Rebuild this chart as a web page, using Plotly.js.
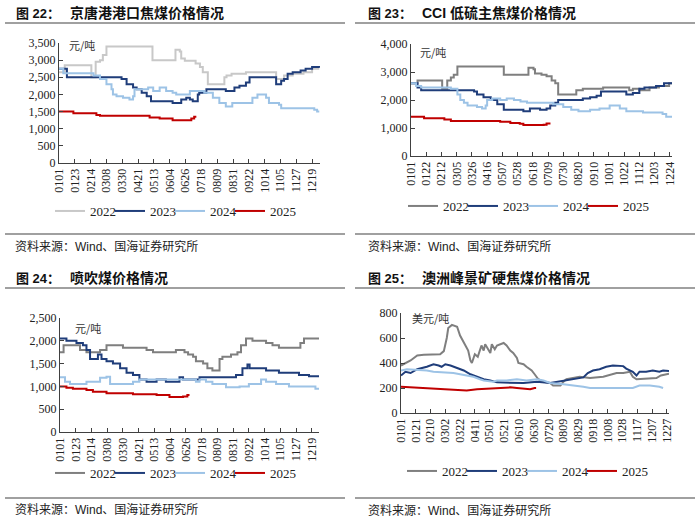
<!DOCTYPE html>
<html><head><meta charset="utf-8">
<script src="https://cdn.plot.ly/plotly-3.0.1.min.js"></script>
<style>html,body{margin:0;padding:0;background:#fff}#chart{width:700px;height:526px}</style>
</head><body><div id="chart"></div>
<script>
// ---------- DATA ----------
const years = ['2022', '2023', '2024', '2025'];

const ticks1 = ['0101','0123','0214','0308','0330','0421','0513','0604','0626','0718','0809','0831','0922','1014','1105','1127','1219'];
const ticks2 = ['0101','0122','0212','0305','0326','0416','0507','0528','0618','0709','0730','0820','0910','1001','1022','1112','1203','1224'];
const ticks3 = ['0101','0123','0214','0308','0330','0421','0513','0604','0626','0718','0809','0831','0922','1014','1105','1127','1219'];
const ticks4 = ['0101','0121','0210','0302','0322','0411','0501','0521','0610','0630','0720','0809','0829','0918','1008','1028','1117','1207','1227'];

// [day of year (0 = Jan 1), price]
// Panel 1: 京唐港港口焦煤 (元/吨)
const p1_2022 = [[0,2650],[8,2850],[45,2500],[51,2950],[57,3000],[61,3150],[66,3400],[130,3000],[162,3300],[168,3250],[170,3050],[175,2980],[190,2900],[196,2800],[200,2650],[207,2300],[230,2500],[233,2550],[240,2600],[260,2650],[302,2450],[313,2550],[325,2600],[340,2650],[352,2750],[362,2750]];
const p1_2023 = [[0,2750],[11,2500],[87,2450],[94,2300],[103,2200],[108,2150],[115,2050],[122,1950],[128,1800],[158,1750],[170,1850],[177,1900],[182,1850],[186,1800],[193,2000],[195,2050],[205,2150],[232,2100],[244,2200],[251,2250],[260,2350],[265,2500],[302,2300],[309,2400],[313,2450],[318,2600],[325,2650],[336,2700],[343,2750],[352,2800],[362,2780]];
const p1_2024 = [[0,2750],[6,2620],[48,2550],[57,2450],[66,2300],[73,2150],[75,2000],[80,1950],[89,1900],[98,1850],[103,1950],[105,2150],[124,2200],[131,2100],[140,2200],[149,2100],[158,2050],[163,2000],[182,2100],[202,2050],[214,1900],[223,1750],[232,1650],[241,1750],[269,1900],[276,2000],[288,1900],[292,1750],[306,1700],[309,1600],[355,1550],[359,1500],[362,1500]];
const p1_2025 = [[0,1500],[20,1450],[52,1400],[57,1380],[126,1330],[140,1300],[158,1250],[184,1300],[188,1350],[191,1350]];

// Panel 2: CCI 低硫主焦煤 (元/吨)
const p2_2022 = [[0,2600],[9,2700],[43,2400],[50,2700],[55,2800],[59,2900],[64,3200],[128,2900],[162,3150],[169,3100],[171,2950],[180,2900],[187,2850],[194,2700],[199,2600],[203,2200],[228,2350],[237,2400],[265,2450],[301,2350],[306,2400],[315,2350],[329,2450],[342,2500],[356,2600],[361,2600]];
const p2_2023 = [[0,2600],[9,2450],[14,2350],[87,2300],[91,2200],[100,2100],[110,2000],[119,1850],[128,1650],[155,1600],[164,1700],[178,1650],[187,1700],[192,1800],[199,1900],[203,2000],[237,2050],[247,2100],[256,2150],[262,2300],[297,2200],[306,2250],[315,2400],[322,2450],[338,2500],[349,2600],[361,2600]];
const p2_2024 = [[0,2600],[7,2500],[14,2450],[55,2400],[64,2200],[68,2000],[73,1900],[78,1800],[91,1750],[98,1700],[103,1800],[105,2000],[112,2050],[123,2000],[132,2050],[142,2000],[151,1950],[160,1900],[196,1850],[210,1750],[221,1650],[231,1600],[247,1650],[260,1700],[274,1800],[288,1700],[297,1600],[320,1550],[347,1500],[352,1400],[361,1400]];
const p2_2025 = [[0,1400],[18,1350],[46,1300],[55,1250],[123,1220],[137,1180],[150,1150],[155,1110],[183,1120],[187,1160],[191,1200]];

// Panel 3: 喷吹煤 (元/吨)
const p3_2022 = [[0,1750],[5,1900],[28,1800],[37,1750],[56,1800],[65,1900],[88,1850],[121,1800],[130,1750],[162,1800],[174,1750],[179,1700],[186,1650],[190,1550],[200,1500],[206,1400],[213,1350],[223,1600],[227,1650],[239,1700],[248,1750],[253,1900],[260,2050],[269,2000],[288,1950],[297,1900],[306,1850],[336,1950],[341,2050],[362,2050]];
const p3_2023 = [[0,2050],[9,2000],[23,1950],[32,1900],[37,1800],[42,1600],[53,1700],[58,1600],[65,1550],[74,1500],[84,1400],[93,1300],[102,1250],[111,1150],[121,1100],[135,1150],[148,1100],[167,1200],[172,1150],[195,1200],[246,1250],[255,1400],[262,1480],[265,1400],[288,1350],[306,1300],[334,1250],[348,1220],[362,1200]];
const p3_2024 = [[0,1200],[7,1100],[14,1050],[37,1100],[56,1190],[65,1210],[70,1050],[102,1100],[111,1150],[190,1100],[195,1150],[204,1100],[213,1050],[232,980],[251,1000],[264,1050],[281,1150],[288,1100],[302,1050],[320,1000],[357,950],[362,950]];
const p3_2025 = [[0,1000],[9,970],[18,950],[37,920],[46,880],[65,850],[102,830],[135,810],[153,770],[172,780],[178,810],[181,810]];

// Panel 4: 澳洲峰景矿硬焦煤 (美元/吨)
const p4_2022 = [[0,380],[6,400],[13,420],[22,460],[31,465],[53,470],[58,495],[62,600],[64,680],[69,705],[76,690],[80,620],[87,550],[91,500],[94,420],[96,400],[100,470],[104,450],[109,540],[112,500],[114,550],[121,480],[123,550],[127,510],[130,540],[139,560],[143,540],[148,500],[152,480],[157,440],[159,400],[166,390],[170,370],[177,340],[181,310],[186,270],[193,250],[202,240],[206,220],[216,220],[220,250],[224,270],[233,280],[242,290],[256,280],[274,290],[292,320],[301,320],[310,330],[314,290],[319,270],[346,280],[352,300],[359,310],[363,315]];
const p4_2023 = [[0,300],[6,330],[13,320],[22,350],[35,370],[44,390],[51,380],[55,370],[60,390],[67,380],[76,360],[85,340],[94,310],[103,290],[112,270],[121,260],[130,245],[166,240],[184,250],[202,240],[211,250],[220,260],[229,270],[247,285],[253,320],[260,340],[269,350],[278,370],[287,380],[301,375],[305,355],[314,330],[319,300],[323,330],[332,330],[341,340],[350,330],[355,340],[363,335]];
const p4_2024 = [[0,340],[8,350],[35,340],[44,330],[71,320],[80,310],[89,300],[98,290],[107,270],[112,260],[125,250],[130,260],[143,260],[157,270],[170,260],[184,270],[193,260],[202,240],[220,230],[238,220],[247,210],[256,200],[314,200],[323,220],[337,220],[350,210],[355,200]];
const p4_2025 = [[0,210],[13,205],[22,200],[35,195],[49,190],[67,185],[76,180],[89,180],[103,190],[121,195],[134,200],[148,205],[157,200],[166,195],[175,190],[181,200],[183,200]];

const titles = ['京唐港港口焦煤价格情况', 'CCI 低硫主焦煤价格情况', '喷吹煤价格情况', '澳洲峰景矿硬焦煤价格情况'];
const figNums = ['图 22：', '图 23：', '图 24：', '图 25：'];
const units = ['元/吨', '元/吨', '元/吨', '美元/吨'];
const sourceText = '资料来源：Wind、国海证券研究所';

// ---------- BUILD ----------
const W = 700, H = 526;
const px = v => v / W, py = v => 1 - v / H;
const cum = [0,31,59,90,120,151,181,212,243,273,304,334];
const doy = s => cum[parseInt(s.slice(0,2),10)-1] + parseInt(s.slice(2),10) - 1;

const serif = 'Liberation Serif, Times New Roman, serif';
const cjk = 'Noto Sans CJK SC, sans-serif';
const colorsA = ['#c8c8c8', '#1f3d7a', '#9dc3e6', '#c00000'];
const colorsB = ['#7f7f7f', '#1f3d7a', '#9dc3e6', '#c00000'];

const panels = [
  {series:[p1_2022,p1_2023,p1_2024,p1_2025], colors:colorsA, shape:'hv', ticks:ticks1},
  {series:[p2_2022,p2_2023,p2_2024,p2_2025], colors:colorsB, shape:'hv', ticks:ticks2},
  {series:[p3_2022,p3_2023,p3_2024,p3_2025], colors:colorsB, shape:'hv', ticks:ticks3},
  {series:[p4_2022,p4_2023,p4_2024,p4_2025], colors:colorsB, shape:'linear', ticks:ticks4}
];

const traces = [];
panels.forEach((p, i) => {
  const sfx = i === 0 ? '' : String(i + 1);
  p.series.forEach((s, j) => {
    const t = {
      type: 'scatter', mode: 'lines', name: years[j],
      x: s.map(d => d[0]), y: s.map(d => d[1]),
      xaxis: 'x' + sfx, yaxis: 'y' + sfx, legend: 'legend' + sfx,
      line: {color: p.colors[j], width: 2, shape: p.shape},
      hoverinfo: 'skip'
    };
    if (j === p.series.length - 1) t.legendwidth = 34;
    traces.push(t);
  });
});

// geometry (pixels)
const geo = [
  {x0:59, x1:320, yt:43, yb:163, xr:363, yr:3500, dt:500, lx:50, ly:211},
  {x0:411, x1:672, yt:44, yb:156, xr:360, yr:4000, dt:1000, lx:403, ly:206},
  {x0:60, x1:319, yt:318, yb:432, xr:362, yr:2500, dt:500, lx:50, ly:473},
  {x0:401, x1:669, yt:313, yb:413, xr:363, yr:800, dt:200, lx:402, ly:471}
];

const layout = {
  width: W, height: H, margin: {l:0, r:0, t:0, b:0},
  paper_bgcolor: '#fff', plot_bgcolor: 'rgba(0,0,0,0)',
  showlegend: true, hovermode: false,
  shapes: [], annotations: []
};

const axFont = {family: serif, size: 12, color: '#222'};
geo.forEach((g, i) => {
  const sfx = i === 0 ? '' : String(i + 1);
  layout['xaxis' + sfx] = {
    domain: [px(g.x0), px(g.x1)], range: [0, g.xr], anchor: 'y' + sfx,
    tickmode: 'array', tickvals: panels[i].ticks.map(doy), ticktext: panels[i].ticks,
    tickangle: -90, ticks: 'inside', ticklen: 4, tickcolor: '#404040',
    showline: true, linecolor: '#404040', linewidth: 1,
    showgrid: false, zeroline: false, tickfont: axFont, fixedrange: true
  };
  layout['yaxis' + sfx] = {
    domain: [py(g.yb), py(g.yt)], range: [0, g.yr], dtick: g.dt, tick0: 0,
    anchor: 'x' + sfx, tickformat: ',d',
    ticks: 'inside', ticklen: 4, tickcolor: '#404040',
    showline: true, linecolor: '#404040', linewidth: 1,
    showgrid: false, zeroline: false, tickfont: axFont, fixedrange: true
  };
  layout['legend' + sfx] = {
    orientation: 'h', x: px(g.lx), y: py(g.ly), xanchor: 'left', yanchor: 'middle',
    font: {family: serif, size: 13, color: '#222'}, bgcolor: 'rgba(0,0,0,0)',
    entrywidth: 15, entrywidthmode: 'pixels', itemclick: false, itemdoubleclick: false
  };
});

// titles, separators, sources
const blocks = [
  {lx0:5, lx1:345, ty:13, tl:23, sx:13, sy:246, sl:234, numx:14, titx:68},
  {lx0:355, lx1:695, ty:13, tl:23, sx:366, sy:246, sl:234, numx:366, titx:420},
  {lx0:5, lx1:345, ty:278, tl:288, sx:13, sy:509, sl:498, numx:14, titx:68},
  {lx0:355, lx1:695, ty:278, tl:288, sx:366, sy:510, sl:498, numx:366, titx:420}
];
const unitPos = [[67,45],[418,52],[73,328],[410,318]];

blocks.forEach((b, i) => {
  layout.shapes.push({type:'line', xref:'paper', yref:'paper', x0:px(b.lx0), x1:px(b.lx1), y0:py(b.tl), y1:py(b.tl), line:{color:'#808080', width:1.3}});
  layout.shapes.push({type:'line', xref:'paper', yref:'paper', x0:px(b.lx0), x1:px(b.lx1), y0:py(b.sl), y1:py(b.sl), line:{color:'#808080', width:1.3}});
  layout.annotations.push({xref:'paper', yref:'paper', x:px(b.numx), y:py(b.ty), xanchor:'left', yanchor:'middle', showarrow:false,
    text:'<b>' + figNums[i] + '</b>', font:{family:'Liberation Sans, Noto Sans CJK SC, sans-serif', size:13, color:'#111'}});
  layout.annotations.push({xref:'paper', yref:'paper', x:px(b.titx), y:py(b.ty), xanchor:'left', yanchor:'middle', showarrow:false,
    text:'<b>' + titles[i] + '</b>', font:{family:'Liberation Sans, Noto Sans CJK SC, sans-serif', size:14, color:'#111'}});
  layout.annotations.push({xref:'paper', yref:'paper', x:px(b.sx), y:py(b.sy), xanchor:'left', yanchor:'middle', showarrow:false,
    text: sourceText, font:{family:'Liberation Sans, Noto Sans CJK SC, sans-serif', size:12, color:'#222'}});
  layout.annotations.push({xref:'paper', yref:'paper', x:px(unitPos[i][0]), y:py(unitPos[i][1]), xanchor:'left', yanchor:'middle', showarrow:false,
    text: units[i], font:{family:cjk, size:11, color:'#333'}});
});

Plotly.newPlot('chart', traces, layout, {displayModeBar:false, staticPlot:true});
</script>
</body></html>
